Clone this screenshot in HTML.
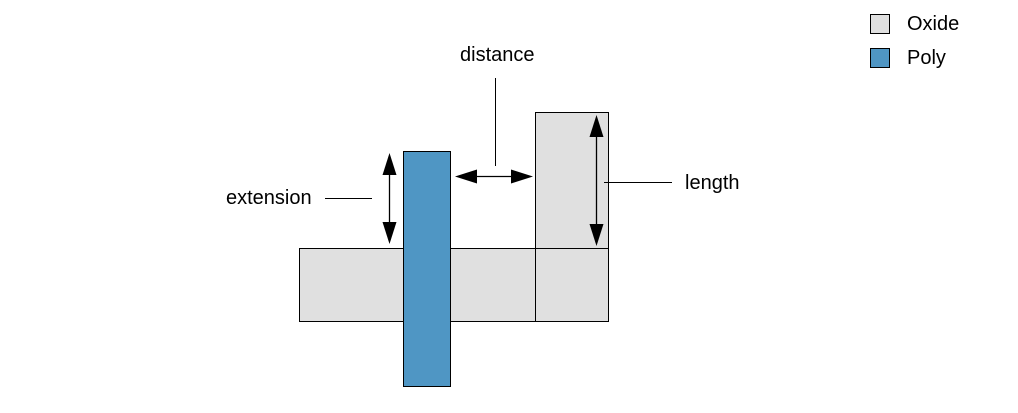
<!DOCTYPE html>
<html><head><style>body{margin:0;background:#fff}</style></head><body>
<svg width="1018" height="408" xmlns="http://www.w3.org/2000/svg" font-family="Liberation Sans, sans-serif" font-size="20">
<rect x="299.5" y="248.5" width="309" height="73" fill="#e0e0e0" stroke="#000"/>
<rect x="535.5" y="112.5" width="73" height="136" fill="#e0e0e0" stroke="#000"/>
<line x1="535.5" y1="248" x2="535.5" y2="321" stroke="#000"/>
<rect x="403.5" y="151.5" width="47" height="235" fill="#4f96c4" stroke="#000"/>
<g stroke="#000" stroke-width="1.3">
<line x1="389.5" y1="170" x2="389.5" y2="228"/>
<line x1="470" y1="176.5" x2="518" y2="176.5"/>
<line x1="596.5" y1="132" x2="596.5" y2="230"/>
</g>
<g fill="#000">
<polygon points="389.5,153 382.5,175 396.5,175"/>
<polygon points="389.5,244 382.5,222 396.5,222"/>
<polygon points="455,176.5 477,169.5 477,183.5"/>
<polygon points="533,176.5 511,169.5 511,183.5"/>
<polygon points="596.5,115 589.5,137 603.5,137"/>
<polygon points="596.5,246 589.5,224 603.5,224"/>
</g>
<g stroke="#000" stroke-width="1">
<line x1="325" y1="198.5" x2="372" y2="198.5"/>
<line x1="495.5" y1="78" x2="495.5" y2="166"/>
<line x1="604" y1="182.5" x2="672" y2="182.5"/>
</g>
<text x="226" y="204">extension</text>
<text x="460" y="61">distance</text>
<text x="685" y="189">length</text>
<rect x="870.5" y="14.5" width="19" height="19" fill="#e0e0e0" stroke="#000"/>
<rect x="870.5" y="48.5" width="19" height="19" fill="#4f96c4" stroke="#000"/>
<text x="907" y="30">Oxide</text>
<text x="907" y="64">Poly</text>
</svg>
</body></html>
